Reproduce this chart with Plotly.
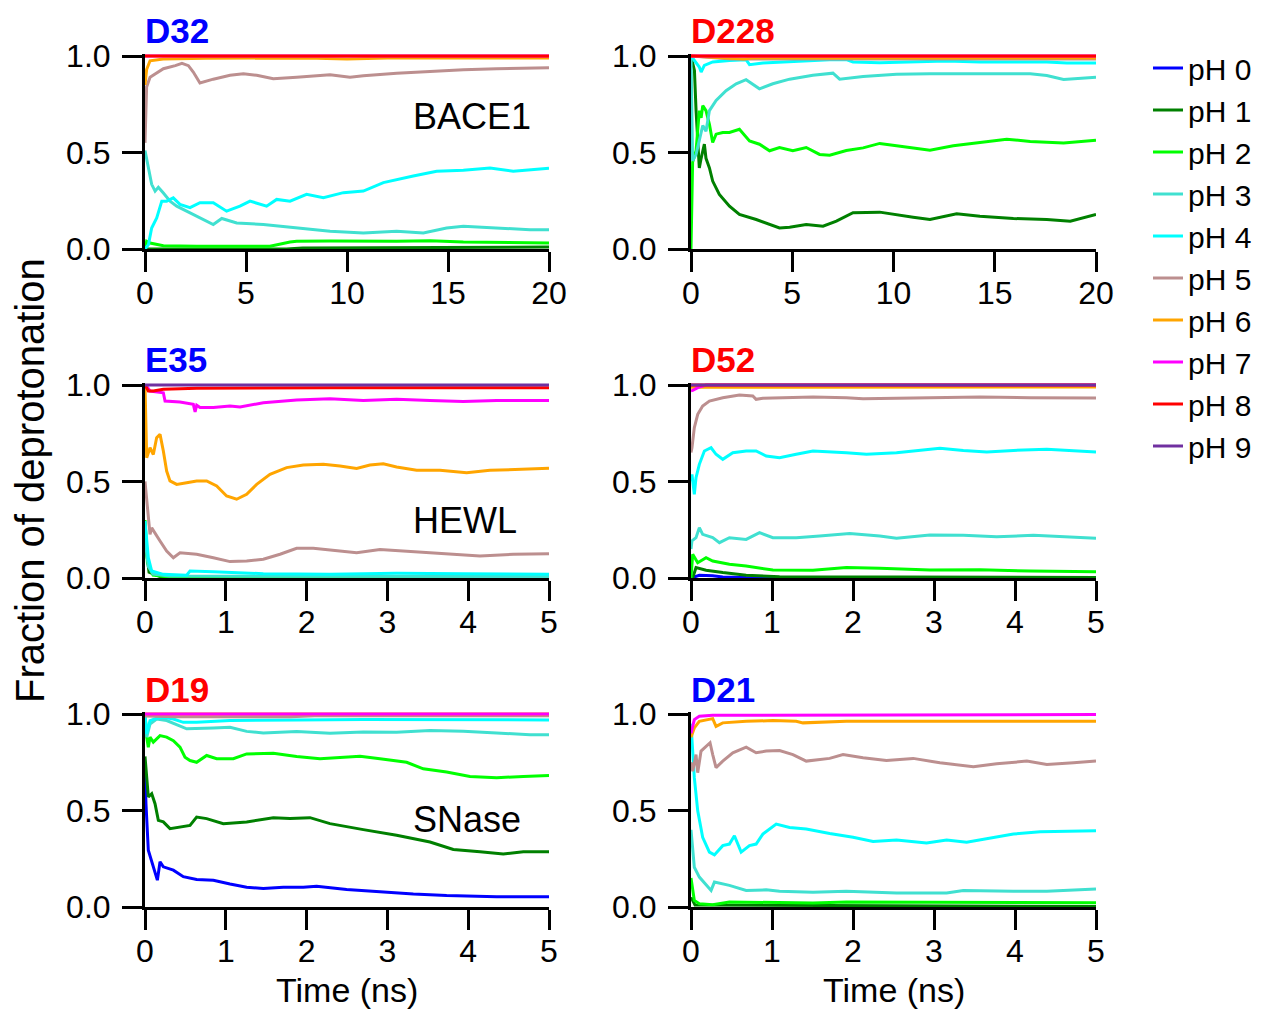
import plotly.graph_objects as go

# ---------------------------------------------------------------------------
# Fraction of deprotonated state vs. simulation time, per pH, for six residues
# ---------------------------------------------------------------------------
ph_labels = ["pH 0", "pH 1", "pH 2", "pH 3", "pH 4", "pH 5", "pH 6", "pH 7", "pH 8", "pH 9"]
ph_colors = ["#0000FF", "#008000", "#00FF00", "#40E0D0", "#00FFFF",
             "#BC8F8F", "#FFA500", "#FF00FF", "#FF0000", "#7030A0"]

residue_names = ["D32", "D228", "E35", "D52", "D19", "D21"]
residue_colors = ["#0000FF", "#FF0000", "#0000FF", "#FF0000", "#FF0000", "#0000FF"]
protein_names = ["BACE1", "HEWL", "SNase"]
time_ticks_bace1 = [0, 5, 10, 15, 20]
time_ticks_short = [0, 1, 2, 3, 4, 5]
fraction_ticks = [0.0, 0.5, 1.0]
fraction_tick_text = ["0.0", "0.5", "1.0"]

# ---- BACE1 D32 (ns) ----
d32_t_ph1 = [0, 7.0, 7.8, 13.8, 14.6, 20]
d32_f_ph1 = [0.0, 0.0, 0.005, 0.006, 0.01, 0.01]
d32_t_ph2 = [0, 0.08, 0.25, 0.91, 2.56, 4.21, 6.19, 7.18, 7.51, 9.16, 12.46, 14.11, 15.76, 20]
d32_f_ph2 = [0.0, 0.04, 0.031, 0.017, 0.014, 0.014, 0.014, 0.036, 0.04, 0.042, 0.04, 0.043, 0.036, 0.031]
d32_t_ph3 = [0, 0.08, 0.33, 0.5, 0.66, 0.91, 1.24, 1.57, 2.06, 2.56, 3.38, 3.80, 4.54, 5.86, 7.51,
             9.16, 10.81, 12.46, 13.78, 14.93, 15.76, 17.41, 19.06, 20]
d32_f_ph3 = [0.51, 0.47, 0.335, 0.30, 0.32, 0.29, 0.248, 0.222, 0.196, 0.17, 0.127, 0.158, 0.135, 0.127,
             0.109, 0.092, 0.083, 0.092, 0.083, 0.109, 0.118, 0.109, 0.10, 0.10]
d32_t_ph4 = [0, 0.17, 0.33, 0.58, 0.83, 1.07, 1.40, 1.73, 2.23, 2.72, 3.38, 4.04, 4.70, 5.20, 6.02,
             6.52, 7.18, 8.0, 8.83, 9.82, 10.81, 11.80, 13.28, 14.44, 15.76, 17.08, 18.23, 19.06, 20]
d32_f_ph4 = [0.0, 0.023, 0.109, 0.161, 0.248, 0.248, 0.265, 0.231, 0.214, 0.24, 0.24, 0.196, 0.222,
             0.248, 0.222, 0.257, 0.248, 0.283, 0.266, 0.292, 0.30, 0.344, 0.378, 0.403, 0.408, 0.42,
             0.403, 0.411, 0.418]
d32_t_ph5 = [0, 0.08, 0.25, 0.91, 1.5, 1.83, 2.15, 2.39, 2.72, 3.38, 4.21, 4.87, 5.53, 6.35, 7.51,
             8.33, 9.16, 10.15, 10.81, 12.46, 14.11, 15.76, 17.41, 20]
d32_f_ph5 = [0.55, 0.84, 0.89, 0.934, 0.95, 0.962, 0.95, 0.917, 0.86, 0.88, 0.90, 0.908, 0.90, 0.882,
             0.89, 0.898, 0.903, 0.89, 0.898, 0.911, 0.92, 0.929, 0.934, 0.939]
d32_t_ph6 = [0, 0.08, 0.25, 0.9, 3, 8, 10, 12, 20]
d32_f_ph6 = [0.85, 0.93, 0.975, 0.985, 0.988, 0.99, 0.984, 0.99, 0.99]
d32_t_ph7 = [0, 20]
d32_f_ph7 = [1.0, 1.0]
d32_t_ph8 = [0, 20]
d32_f_ph8 = [1.0, 1.0]

# ---- BACE1 D228 (ns) ----
d228_t_ph1 = [0, 0.17, 0.25, 0.41, 0.5, 0.58, 0.66, 0.74, 0.91, 1.07, 1.40, 1.90, 2.39, 3.22, 4.37,
              4.87, 5.69, 6.52, 7.18, 8.0, 9.32, 10.97, 11.80, 13.12, 14.27, 15.92, 17.57, 18.73, 20]
d228_f_ph1 = [1.0, 0.925, 0.717, 0.42, 0.47, 0.51, 0.543, 0.47, 0.42, 0.352, 0.283, 0.222, 0.179,
              0.153, 0.109, 0.113, 0.127, 0.118, 0.144, 0.188, 0.191, 0.165, 0.153, 0.182, 0.17,
              0.158, 0.153, 0.144, 0.179]
d228_t_ph2 = [0, 0.08, 0.25, 0.41, 0.5, 0.58, 0.74, 0.91, 1.07, 1.24, 1.57, 1.90, 2.39, 2.89, 3.38,
              3.88, 4.37, 5.03, 5.69, 6.35, 6.85, 7.67, 8.50, 9.32, 10.15, 11.80, 12.95, 14.27,
              15.59, 16.75, 18.40, 20]
d228_f_ph2 = [0.0, 0.45, 0.509, 0.717, 0.68, 0.743, 0.717, 0.646, 0.552, 0.595, 0.604, 0.604, 0.62,
              0.56, 0.543, 0.509, 0.526, 0.509, 0.526, 0.49, 0.486, 0.51, 0.524, 0.547, 0.535,
              0.512, 0.535, 0.552, 0.569, 0.557, 0.549, 0.564]
d228_t_ph3 = [0, 0.08, 0.25, 0.41, 0.58, 0.74, 0.91, 1.24, 1.73, 2.23, 2.72, 3.38, 4.04, 4.87, 6.02,
              7.01, 7.34, 8.5, 10.15, 11.8, 13.45, 15.1, 16.75, 17.57, 18.4, 20]
d228_f_ph3 = [1.0, 0.457, 0.49, 0.56, 0.64, 0.61, 0.717, 0.77, 0.82, 0.856, 0.877, 0.83, 0.856, 0.88,
              0.90, 0.911, 0.88, 0.894, 0.905, 0.908, 0.908, 0.905, 0.908, 0.899, 0.878, 0.89]
d228_t_ph4 = [0, 0.41, 0.5, 0.66, 1.07, 1.90, 2.72, 2.89, 3.55, 5.2, 6.85, 7.67, 8.0, 9.32, 10.97,
              12.62, 14.27, 15.92, 17.57, 18.56, 20]
d228_f_ph4 = [1.0, 0.943, 0.917, 0.951, 0.969, 0.977, 0.981, 0.955, 0.964, 0.974, 0.981, 0.981,
              0.969, 0.965, 0.969, 0.974, 0.969, 0.969, 0.969, 0.964, 0.964]
d228_t_ph5 = [0, 2, 20]
d228_f_ph5 = [1.0, 0.985, 0.985]
d228_t_ph6 = [0, 2.6, 3, 20]
d228_f_ph6 = [1.0, 0.985, 0.99, 0.99]
d228_t_ph7 = [0, 20]
d228_f_ph7 = [1.0, 1.0]
d228_t_ph8 = [0, 20]
d228_f_ph8 = [1.0, 1.0]

# ---- HEWL E35 (ns) ----
e35_t_ph1 = [0, 0.05, 0.2, 5]
e35_f_ph1 = [0.2, 0.03, 0.005, 0.0]
e35_t_ph2 = [0, 0.03, 0.1, 0.3, 5]
e35_f_ph2 = [0.3, 0.08, 0.015, 0.005, 0.003]
e35_t_ph3 = [0, 0.041, 0.1, 0.3, 5]
e35_f_ph3 = [0.2, 0.06, 0.02, 0.01, 0.008]
e35_t_ph4 = [0, 0.041, 0.083, 0.227, 0.516, 0.557, 0.846, 1.464, 2.289, 3.114, 3.939, 5]
e35_f_ph4 = [0.295, 0.105, 0.036, 0.019, 0.014, 0.036, 0.033, 0.022, 0.019, 0.024, 0.022, 0.019]
e35_t_ph5 = [0, 0.041, 0.062, 0.083, 0.124, 0.186, 0.268, 0.351, 0.433, 0.639, 0.846, 1.052, 1.258,
             1.464, 1.671, 1.877, 2.083, 2.372, 2.619, 2.908, 3.321, 3.733, 4.146, 4.558, 5]
e35_f_ph5 = [0.5, 0.33, 0.226, 0.26, 0.235, 0.192, 0.14, 0.105, 0.131, 0.123, 0.105, 0.085, 0.088,
             0.097, 0.123, 0.154, 0.154, 0.143, 0.131, 0.148, 0.136, 0.126, 0.114, 0.123, 0.126]
e35_t_ph6 = [0, 0.021, 0.062, 0.103, 0.144, 0.186, 0.227, 0.268, 0.309, 0.392, 0.516, 0.639, 0.763,
             0.887, 1.01, 1.134, 1.258, 1.382, 1.547, 1.753, 1.959, 2.207, 2.413, 2.619, 2.784,
             2.949, 3.114, 3.362, 3.651, 3.981, 4.269, 4.558, 5]
e35_f_ph6 = [1.0, 0.623, 0.675, 0.64, 0.727, 0.744, 0.658, 0.554, 0.503, 0.485, 0.494, 0.503, 0.503,
             0.477, 0.425, 0.408, 0.434, 0.485, 0.537, 0.572, 0.585, 0.589, 0.58, 0.568, 0.585,
             0.592, 0.575, 0.558, 0.558, 0.546, 0.558, 0.563, 0.568]
e35_t_ph7 = [0, 0.021, 0.062, 0.227, 0.248, 0.433, 0.598, 0.62, 0.64, 0.681, 0.846, 1.052, 1.176,
             1.464, 1.877, 2.289, 2.702, 3.114, 3.527, 3.939, 4.352, 5]
e35_f_ph7 = [1.0, 0.993, 0.969, 0.96, 0.917, 0.912, 0.90, 0.86, 0.895, 0.883, 0.883, 0.891, 0.886,
             0.908, 0.922, 0.929, 0.92, 0.926, 0.92, 0.914, 0.92, 0.92]
e35_t_ph8 = [0, 0.041, 0.103, 0.227, 0.639, 2.289, 5]
e35_f_ph8 = [1.0, 0.969, 0.969, 0.978, 0.983, 0.986, 0.986]
e35_t_ph9 = [0, 5]
e35_f_ph9 = [1.0, 1.0]

# ---- HEWL D52 (ns) ----
d52_t_ph0 = [0, 0.103, 0.268, 0.392, 0.681, 5]
d52_f_ph0 = [0.0, 0.014, 0.012, 0.005, 0.002, 0.0]
d52_t_ph1 = [0, 0.021, 0.062, 0.186, 0.392, 0.681, 1.093, 5]
d52_f_ph1 = [0.0, 0.0, 0.054, 0.04, 0.028, 0.014, 0.007, 0.003]
d52_t_ph2 = [0, 0.021, 0.083, 0.186, 0.268, 0.474, 0.681, 1.011, 1.506, 1.918, 2.331, 2.949, 3.568,
             4.187, 5]
d52_f_ph2 = [0.0, 0.123, 0.079, 0.105, 0.088, 0.071, 0.062, 0.041, 0.04, 0.054, 0.05, 0.041, 0.043,
             0.036, 0.033]
d52_t_ph3 = [0, 0.012, 0.062, 0.103, 0.144, 0.268, 0.351, 0.474, 0.681, 0.846, 1.011, 1.299, 1.588,
             1.959, 2.331, 2.537, 2.949, 3.362, 3.774, 4.228, 5]
d52_f_ph3 = [0.15, 0.192, 0.209, 0.261, 0.226, 0.209, 0.183, 0.209, 0.2, 0.235, 0.209, 0.209, 0.218,
             0.23, 0.218, 0.206, 0.223, 0.221, 0.214, 0.221, 0.206]
d52_t_ph4 = [0, 0.012, 0.041, 0.062, 0.103, 0.165, 0.248, 0.309, 0.392, 0.516, 0.681, 0.804, 0.928,
             1.093, 1.299, 1.506, 1.918, 2.166, 2.537, 2.743, 3.073, 3.362, 3.651, 3.981, 4.393, 5]
d52_f_ph4 = [0.5, 0.537, 0.434, 0.52, 0.589, 0.658, 0.675, 0.641, 0.615, 0.649, 0.658, 0.658, 0.632,
             0.623, 0.641, 0.658, 0.649, 0.641, 0.649, 0.658, 0.672, 0.661, 0.653, 0.661, 0.667, 0.653]
d52_t_ph5 = [0, 0.012, 0.041, 0.083, 0.144, 0.227, 0.392, 0.598, 0.763, 0.804, 0.887, 1.093, 1.506,
             1.918, 2.124, 2.537, 2.949, 3.568, 4.187, 5]
d52_f_ph5 = [0.65, 0.675, 0.779, 0.848, 0.891, 0.917, 0.934, 0.948, 0.943, 0.926, 0.931, 0.934,
             0.938, 0.934, 0.929, 0.931, 0.934, 0.938, 0.934, 0.933]
d52_t_ph6 = [0, 5]
d52_f_ph6 = [0.988, 0.99]
d52_t_ph7 = [0, 0.021, 0.103, 0.186, 5]
d52_f_ph7 = [0.97, 0.972, 0.99, 1.0, 1.0]
d52_t_ph8 = [0, 5]
d52_f_ph8 = [1.0, 1.0]
d52_t_ph9 = [0, 5]
d52_f_ph9 = [1.0, 1.0]

# ---- SNase D19 (ns) ----
d19_t_ph0 = [0, 0.012, 0.041, 0.103, 0.153, 0.186, 0.227, 0.351, 0.474, 0.639, 0.846, 1.052, 1.258,
             1.464, 1.712, 1.959, 2.124, 2.496, 2.908, 3.321, 3.733, 4.352, 5]
d19_f_ph0 = [0.7, 0.535, 0.294, 0.208, 0.139, 0.234, 0.208, 0.191, 0.157, 0.143, 0.139, 0.119, 0.102,
             0.096, 0.102, 0.102, 0.108, 0.091, 0.079, 0.067, 0.059, 0.053, 0.053]
d19_t_ph1 = [0, 0.012, 0.041, 0.083, 0.124, 0.165, 0.227, 0.309, 0.433, 0.557, 0.639, 0.763, 0.969,
             1.258, 1.588, 1.794, 2.042, 2.289, 2.702, 3.114, 3.527, 3.816, 4.146, 4.434, 4.682, 5]
d19_f_ph1 = [0.78, 0.725, 0.57, 0.587, 0.535, 0.449, 0.441, 0.406, 0.415, 0.423, 0.466, 0.458, 0.432,
             0.441, 0.463, 0.458, 0.463, 0.432, 0.401, 0.372, 0.337, 0.298, 0.286, 0.274, 0.286, 0.286]
d19_t_ph2 = [0, 0.021, 0.041, 0.062, 0.103, 0.186, 0.268, 0.351, 0.433, 0.495, 0.557, 0.639, 0.763,
             0.887, 1.093, 1.258, 1.588, 1.877, 2.166, 2.372, 2.661, 2.908, 3.238, 3.444, 3.733,
             4.022, 4.352, 4.682, 5]
d19_f_ph2 = [1.0, 0.88, 0.828, 0.88, 0.854, 0.888, 0.88, 0.862, 0.828, 0.776, 0.759, 0.75, 0.785,
             0.768, 0.768, 0.793, 0.797, 0.78, 0.768, 0.773, 0.781, 0.768, 0.75, 0.716, 0.699, 0.676,
             0.67, 0.676, 0.682]
d19_t_ph3 = [0, 0.021, 0.062, 0.144, 0.268, 0.433, 0.516, 0.846, 1.052, 1.258, 1.464, 1.877, 2.289,
             2.702, 3.114, 3.527, 3.939, 4.352, 4.764, 5]
d19_f_ph3 = [1.0, 0.88, 0.948, 0.974, 0.966, 0.94, 0.923, 0.928, 0.931, 0.91, 0.902, 0.909, 0.90,
             0.907, 0.905, 0.914, 0.91, 0.902, 0.892, 0.893]
d19_t_ph4 = [0, 0.021, 0.062, 0.144, 0.227, 0.351, 0.474, 0.639, 1.052, 1.464, 1.877, 2.702, 3.527, 5]
d19_f_ph4 = [1.0, 0.897, 0.966, 0.978, 0.983, 0.974, 0.957, 0.957, 0.966, 0.966, 0.969, 0.972,
             0.972, 0.969]
d19_t_ph5 = [0, 0.4, 1.8, 2.1, 5]
d19_f_ph5 = [0.99, 0.986, 0.986, 0.991, 0.991]
d19_t_ph6 = [0, 5]
d19_f_ph6 = [1.0, 1.0]
d19_t_ph7 = [0, 5]
d19_f_ph7 = [1.0, 1.0]

# ---- SNase D21 (ns) ----
d21_t_ph1 = [0, 0.05, 5]
d21_f_ph1 = [0.05, 0.01, 0.003]
d21_t_ph2 = [0, 0.012, 0.041, 0.103, 0.268, 0.474, 1.506, 1.918, 5]
d21_f_ph2 = [0.15, 0.12, 0.034, 0.017, 0.012, 0.026, 0.021, 0.026, 0.022]
d21_t_ph3 = [0, 0.012, 0.041, 0.103, 0.186, 0.248, 0.289, 0.474, 0.681, 0.928, 1.093, 1.506, 1.918,
             2.207, 2.537, 3.156, 3.362, 3.981, 4.393, 5]
d21_f_ph3 = [0.4, 0.344, 0.206, 0.155, 0.112, 0.086, 0.129, 0.112, 0.086, 0.089, 0.082, 0.077, 0.082,
             0.077, 0.072, 0.072, 0.086, 0.082, 0.082, 0.093]
d21_t_ph4 = [0, 0.012, 0.041, 0.083, 0.144, 0.227, 0.289, 0.392, 0.474, 0.536, 0.619, 0.722, 0.804,
             0.887, 1.052, 1.217, 1.423, 1.712, 2.001, 2.248, 2.537, 2.908, 3.156, 3.403, 3.651,
             3.981, 4.311, 4.599, 5]
d21_f_ph4 = [0.95, 0.876, 0.67, 0.498, 0.361, 0.284, 0.27, 0.318, 0.326, 0.369, 0.284, 0.318, 0.326,
             0.378, 0.43, 0.412, 0.404, 0.381, 0.361, 0.34, 0.347, 0.332, 0.347, 0.335, 0.352, 0.378,
             0.39, 0.392, 0.395]
d21_t_ph5 = [0, 0.021, 0.062, 0.083, 0.124, 0.186, 0.235, 0.268, 0.309, 0.392, 0.516, 0.681, 0.804,
             0.928, 1.093, 1.258, 1.423, 1.712, 1.877, 2.124, 2.413, 2.743, 3.073, 3.486, 3.774,
             4.146, 4.393, 4.723, 5]
d21_f_ph5 = [0.75, 0.704, 0.79, 0.696, 0.808, 0.833, 0.851, 0.79, 0.722, 0.756, 0.799, 0.828, 0.799,
             0.808, 0.811, 0.79, 0.756, 0.77, 0.79, 0.773, 0.759, 0.77, 0.747, 0.727, 0.742, 0.756,
             0.739, 0.747, 0.756]
d21_t_ph6 = [0, 0.012, 0.041, 0.103, 0.186, 0.268, 0.309, 0.392, 0.681, 1.011, 1.299, 1.382, 1.918,
             3.156, 3.568, 3.981, 5]
d21_f_ph6 = [0.88, 0.893, 0.928, 0.962, 0.971, 0.976, 0.936, 0.954, 0.962, 0.966, 0.962, 0.954,
             0.962, 0.962, 0.959, 0.962, 0.962]
d21_t_ph7 = [0, 0.012, 0.041, 0.103, 0.268, 5]
d21_f_ph7 = [0.9, 0.919, 0.971, 0.988, 0.993, 0.997]

# Curves per panel: (pH index, times, fractions); curves lying flat on zero are omitted
panel_curves = [
    [(1, d32_t_ph1, d32_f_ph1), (2, d32_t_ph2, d32_f_ph2),
     (3, d32_t_ph3, d32_f_ph3), (4, d32_t_ph4, d32_f_ph4), (5, d32_t_ph5, d32_f_ph5),
     (6, d32_t_ph6, d32_f_ph6), (7, d32_t_ph7, d32_f_ph7), (8, d32_t_ph8, d32_f_ph8)],
    [(1, d228_t_ph1, d228_f_ph1), (2, d228_t_ph2, d228_f_ph2),
     (3, d228_t_ph3, d228_f_ph3), (4, d228_t_ph4, d228_f_ph4), (5, d228_t_ph5, d228_f_ph5),
     (6, d228_t_ph6, d228_f_ph6), (7, d228_t_ph7, d228_f_ph7), (8, d228_t_ph8, d228_f_ph8)],
    [(1, e35_t_ph1, e35_f_ph1), (2, e35_t_ph2, e35_f_ph2),
     (3, e35_t_ph3, e35_f_ph3), (4, e35_t_ph4, e35_f_ph4), (5, e35_t_ph5, e35_f_ph5),
     (6, e35_t_ph6, e35_f_ph6), (7, e35_t_ph7, e35_f_ph7), (8, e35_t_ph8, e35_f_ph8),
     (9, e35_t_ph9, e35_f_ph9)],
    [(0, d52_t_ph0, d52_f_ph0), (1, d52_t_ph1, d52_f_ph1), (2, d52_t_ph2, d52_f_ph2),
     (3, d52_t_ph3, d52_f_ph3), (4, d52_t_ph4, d52_f_ph4), (5, d52_t_ph5, d52_f_ph5),
     (6, d52_t_ph6, d52_f_ph6), (7, d52_t_ph7, d52_f_ph7), (8, d52_t_ph8, d52_f_ph8),
     (9, d52_t_ph9, d52_f_ph9)],
    [(0, d19_t_ph0, d19_f_ph0), (1, d19_t_ph1, d19_f_ph1), (2, d19_t_ph2, d19_f_ph2),
     (3, d19_t_ph3, d19_f_ph3), (4, d19_t_ph4, d19_f_ph4), (5, d19_t_ph5, d19_f_ph5),
     (6, d19_t_ph6, d19_f_ph6), (7, d19_t_ph7, d19_f_ph7)],
    [(1, d21_t_ph1, d21_f_ph1), (2, d21_t_ph2, d21_f_ph2),
     (3, d21_t_ph3, d21_f_ph3), (4, d21_t_ph4, d21_f_ph4), (5, d21_t_ph5, d21_f_ph5),
     (6, d21_t_ph6, d21_f_ph6), (7, d21_t_ph7, d21_f_ph7)],
]

# ---------------------------------------------------------------------------
# Layout geometry (pixels on a 1262 x 1009 canvas)
# ---------------------------------------------------------------------------
W, H = 1262, 1009
FONT = "Liberation Sans, Arial, Helvetica, sans-serif"
col_px = [(145, 549), (691, 1096)]          # x of t=0 and t=end
row_px = [(56, 249), (385, 578), (714, 907)]  # y of f=1 and f=0
Y_TOP = 1.012


def px_x(x):
    return x / W


def px_y(y):
    return 1 - y / H


fig = go.Figure()
seen = set()
for p, curves in enumerate(panel_curves):
    axn = "" if p == 0 else str(p + 1)
    for ph, t, f in curves:
        fig.add_trace(go.Scatter(
            x=t, y=f, mode="lines", name=ph_labels[ph], legendgroup=ph_labels[ph],
            legendrank=ph, showlegend=ph not in seen,
            line=dict(color=ph_colors[ph], width=3),
            xaxis="x" + axn, yaxis="y" + axn, hoverinfo="skip",
        ))
        seen.add(ph)

axis_common = dict(
    showgrid=False, zeroline=False, showline=True, linecolor="black", linewidth=3,
    ticks="outside", ticklen=20, tickwidth=3, tickcolor="black", automargin=False,
    tickfont=dict(family=FONT, size=32, color="black"),
)

for p in range(6):
    r, c = divmod(p, 2)
    axn = "" if p == 0 else str(p + 1)
    x0, x1 = col_px[c]
    y1, y0 = row_px[r]
    top_px = y1 - (Y_TOP - 1.0) * (y0 - y1)
    xmax = 20 if p < 2 else 5
    xticks = time_ticks_bace1 if p < 2 else time_ticks_short
    fig.layout["xaxis" + axn] = dict(
        axis_common, domain=[px_x(x0), px_x(x1)], range=[0, xmax],
        tickvals=xticks, anchor="y" + axn, ticklabelstandoff=-6,
    )
    fig.layout["yaxis" + axn] = dict(
        axis_common, domain=[px_y(y0), px_y(top_px)], range=[0, Y_TOP],
        tickvals=fraction_ticks, ticktext=fraction_tick_text, anchor="x" + axn,
        ticklabelstandoff=5,
    )

annotations = []
# residue labels above each panel
for p in range(6):
    r, c = divmod(p, 2)
    x0 = col_px[c][0]
    y1 = row_px[r][0]
    annotations.append(dict(
        text="<b>%s</b>" % residue_names[p], x=px_x(x0 - 2), y=px_y(y1 - 25),
        xref="paper", yref="paper", xanchor="left", yanchor="middle", showarrow=False,
        font=dict(family=FONT, size=35, color=residue_colors[p]),
    ))
# protein names inside the left panels
protein_y = [117, 520, 819]
for r in range(3):
    annotations.append(dict(
        text=protein_names[r], x=px_x(411), y=px_y(protein_y[r]),
        xref="paper", yref="paper", xanchor="left", yanchor="middle", showarrow=False,
        font=dict(family=FONT, size=36, color="black"),
    ))
# shared axis titles
annotations.append(dict(
    text="Fraction of deprotonation", x=px_x(30), y=px_y(481), textangle=-90,
    xref="paper", yref="paper", xanchor="center", yanchor="middle", showarrow=False,
    font=dict(family=FONT, size=40, color="black"),
))
for c in range(2):
    x0, x1 = col_px[c]
    annotations.append(dict(
        text="Time (ns)", x=px_x((x0 + x1) / 2), y=px_y(990),
        xref="paper", yref="paper", xanchor="center", yanchor="middle", showarrow=False,
        font=dict(family=FONT, size=34, color="black"),
    ))

fig.update_layout(
    width=W, height=H, margin=dict(l=0, r=0, t=0, b=0, autoexpand=False),
    paper_bgcolor="white", plot_bgcolor="white",
    annotations=annotations,
    showlegend=True,
    legend=dict(
        x=px_x(1148), y=px_y(42), xanchor="left", yanchor="top",
        font=dict(family=FONT, size=30, color="black"),
        bgcolor="rgba(0,0,0,0)", tracegroupgap=0, itemwidth=30,
    ),
)

fig.write_html("out.html")
